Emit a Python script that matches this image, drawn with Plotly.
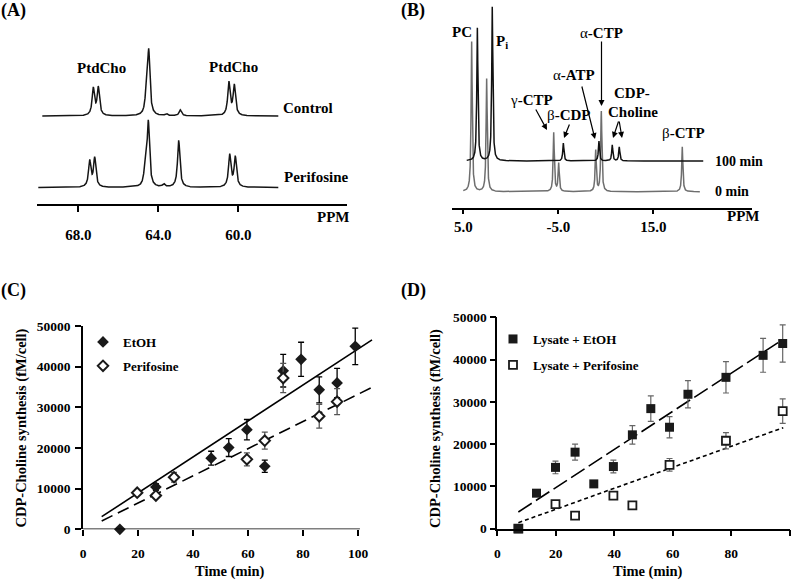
import numpy as np
import plotly.graph_objects as go

W, H = 800, 580
def px(x): return x / W
def py(y): return 1 - y / H

SERIF = "Liberation Serif, Times New Roman, serif"

# ---------------- Panel A: 31P spectra (peak lists) ----------------
a_control_ppm = [67.25, 67.0, 64.6, 64.48, 63.6, 62.9, 60.47, 60.2]
a_control_height = [27, 28, 18, 63, 2, 6, 33, 30]
a_perif_ppm = [67.43, 67.18, 64.65, 64.5, 63.73, 62.98, 60.43, 60.15]
a_perif_height = [26, 29, 20, 64, 3, 47, 32, 30]
a_ticks = [68.0, 64.0, 60.0]

# ---------------- Panel B: spectra at 0 and 100 min ----------------
b_min0_ppm = [4.12, 2.54, -4.52, -5.04, -8.94, -9.53, -18.05]
b_min0_height = [150, 113, 59, 28, 41, 80, 45]
b_min100_ppm = [3.52, 1.95, -5.53, -9.28, -10.68, -11.42]
b_min100_height = [133, 154, 18, 20, 16, 14]
b_ticks = [5.0, -5.0, -15.0]
b_ticktext = ["5.0", "-5.0", "15.0"]

# ---------------- Panel C ----------------
c_etoh_time = [13.4, 26.5, 46.6, 53.0, 59.6, 66.1, 72.8, 79.3, 85.9, 92.4, 99.0]
c_etoh_val = [0, 10400, 17500, 20100, 24500, 15500, 39000, 41800, 34300, 36000, 45000]
c_etoh_err = [0, 800, 1700, 2200, 2500, 1500, 4000, 4200, 3200, 3600, 4500]
c_perif_time = [19.7, 26.5, 33.1, 59.6, 66.1, 72.8, 85.9, 92.4]
c_perif_val = [9000, 8300, 12800, 17200, 21800, 37200, 27800, 31400]
c_perif_err = [500, 500, 1200, 1600, 2100, 3600, 2900, 3200]
c_fit_time = [6.8, 105.1]
c_fit_etoh = [3100, 46600]
c_fit_perif = [2050, 34900]

# ---------------- Panel D ----------------
d_etoh_time = [7.2, 13.4, 19.9, 26.6, 33.0, 39.7, 46.2, 52.5, 58.9, 65.2, 78.2, 90.9, 97.6]
d_etoh_val = [0, 8400, 14500, 18100, 10600, 14700, 22200, 28400, 24000, 31800, 35800, 41000, 43800]
d_etoh_err = [0, 600, 1500, 1900, 700, 1500, 2200, 3000, 2500, 3200, 3700, 4000, 4400]
d_perif_time = [7.2, 19.9, 26.6, 39.7, 46.2, 58.9, 78.2, 97.6]
d_perif_val = [0, 5800, 3100, 7800, 5500, 15100, 20800, 27800]
d_perif_err = [0, 400, 300, 300, 300, 1500, 1900, 2900]
d_fit_time = [7.2, 97.8]
d_fit_etoh = [3950, 44800]
d_fit_perif = [1420, 23900]

time_ticks = [0, 20, 40, 60, 80, 100]
val_ticks = [0, 10000, 20000, 30000, 40000, 50000]


def spectrum(grid, centers, heights, hwhm):
    y = np.zeros_like(grid)
    for c, h in zip(centers, heights):
        y += h / (1 + ((grid - c) / hwhm) ** 2)
    return y


fig = go.Figure()

# Panel A traces (baseline offsets are layout positions in axis units = px above axis)
gA1 = np.linspace(69.8, 58.0, 3000)
gA2 = np.linspace(70.0, 58.0, 3000)
fig.add_trace(go.Scatter(x=gA1, y=88 + spectrum(gA1, a_control_ppm, a_control_height, 0.07),
                         mode="lines", line=dict(color="#151515", width=1.5),
                         xaxis="x", yaxis="y", showlegend=False, hoverinfo="skip"))
fig.add_trace(go.Scatter(x=gA2, y=16.5 + spectrum(gA2, a_perif_ppm, a_perif_height, 0.07),
                         mode="lines", line=dict(color="#151515", width=1.5),
                         xaxis="x", yaxis="y", showlegend=False, hoverinfo="skip"))

# Panel B traces
gB0 = np.linspace(5.0, -19.9, 5000)
gB1 = np.linspace(4.64, -20.26, 5000)
fig.add_trace(go.Scatter(x=gB0, y=16.3 + spectrum(gB0, b_min0_ppm, b_min0_height, 0.07),
                         mode="lines", line=dict(color="#6e6e6e", width=1.5),
                         xaxis="x2", yaxis="y2", showlegend=False, hoverinfo="skip"))
fig.add_trace(go.Scatter(x=gB1, y=47 + spectrum(gB1, b_min100_ppm, b_min100_height, 0.07),
                         mode="lines", line=dict(color="#111111", width=1.5),
                         xaxis="x2", yaxis="y2", showlegend=False, hoverinfo="skip"))

# Panel C
fig.add_trace(go.Scatter(x=c_fit_time, y=c_fit_etoh, mode="lines",
                         line=dict(color="black", width=1.6), xaxis="x3", yaxis="y3",
                         showlegend=False, hoverinfo="skip"))
fig.add_trace(go.Scatter(x=c_fit_time, y=c_fit_perif, mode="lines",
                         line=dict(color="black", width=1.6, dash="12px,6px"), xaxis="x3", yaxis="y3",
                         showlegend=False, hoverinfo="skip"))
fig.add_trace(go.Scatter(x=c_etoh_time, y=c_etoh_val, mode="markers", name="EtOH",
                         marker=dict(symbol="diamond", size=9, color="#1a1a1a", line=dict(width=0)),
                         error_y=dict(type="data", array=c_etoh_err, color="black", thickness=1.3, width=3),
                         xaxis="x3", yaxis="y3", legend="legend", legendgroup="c1", cliponaxis=False))
fig.add_trace(go.Scatter(x=c_perif_time, y=c_perif_val, mode="markers", name="Perifosine",
                         marker=dict(symbol="diamond", size=8, color="white", line=dict(width=2, color="#1a1a1a")),
                         error_y=dict(type="data", array=c_perif_err, color="#555555", thickness=1.3, width=3),
                         xaxis="x3", yaxis="y3", legend="legend", legendgroup="c2", cliponaxis=False))

# Panel D
fig.add_trace(go.Scatter(x=d_fit_time, y=d_fit_etoh, mode="lines",
                         line=dict(color="black", width=1.6, dash="16px,5px"), xaxis="x4", yaxis="y4",
                         showlegend=False, hoverinfo="skip"))
fig.add_trace(go.Scatter(x=d_fit_time, y=d_fit_perif, mode="lines",
                         line=dict(color="black", width=1.6, dash="4px,3px"), xaxis="x4", yaxis="y4",
                         showlegend=False, hoverinfo="skip"))
fig.add_trace(go.Scatter(x=d_perif_time, y=d_perif_val, mode="markers", name="Lysate + Perifosine",
                         marker=dict(symbol="square", size=8, color="white", line=dict(width=1.8, color="#1a1a1a")),
                         error_y=dict(type="data", array=d_perif_err, color="#666666", thickness=1.2, width=3),
                         xaxis="x4", yaxis="y4", legend="legend2", legendgroup="d2", legendrank=2,
                         cliponaxis=False))
fig.add_trace(go.Scatter(x=d_etoh_time, y=d_etoh_val, mode="markers", name="Lysate + EtOH",
                         marker=dict(symbol="square", size=9, color="#1a1a1a", line=dict(width=0)),
                         error_y=dict(type="data", array=d_etoh_err, color="#666666", thickness=1.2, width=3),
                         xaxis="x4", yaxis="y4", legend="legend2", legendgroup="d1", legendrank=1,
                         cliponaxis=False))

axis_common = dict(showgrid=False, zeroline=False, ticks="outside", tickwidth=1.5,
                   tickcolor="black", linecolor="black", linewidth=1.5)

ann = []
def text(x, y, s, size=15, xanchor="center", weight="bold", color="black", angle=0):
    ann.append(dict(x=px(x), y=py(y), xref="paper", yref="paper", text=s, showarrow=False,
                    xanchor=xanchor, yanchor="middle", textangle=angle,
                    font=dict(family=SERIF, size=size, color=color, weight=weight)))

def arrow(x0, y0, x1, y1):
    ann.append(dict(x=px(x1), y=py(y1), xref="paper", yref="paper", ax=x0 - x1, ay=y0 - y1,
                    text="", showarrow=True,
                    arrowhead=2, arrowsize=1, arrowwidth=1.2, arrowcolor="black"))

# Panel labels
text(13, 10, "(A)", 18)
text(413, 10, "(B)", 18)
text(13, 291, "(C)", 18)
text(413, 291, "(D)", 18)

# A labels
text(101.5, 68, "PtdCho")
text(233, 67, "PtdCho")
text(281, 108, "Control", xanchor="left")
text(282, 177, "Perifosine", xanchor="left")
text(333, 217, "PPM")

# B labels
text(461.5, 32, "PC")
text(502, 42, "P<sub>i</sub>")
text(531.5, 100, "γ<b>-CTP</b>", weight="normal")
text(568, 115, "β<b>-CDP</b>", weight="normal")
text(574, 75, "α<b>-ATP</b>", weight="normal")
text(601.5, 33, "α<b>-CTP</b>", weight="normal")
text(632, 93, "CDP-")
text(633, 112, "Choline")
text(683, 133, "β<b>-CTP</b>", weight="normal")
text(713, 161, "100 min", 14, xanchor="left")
text(713, 191, "0 min", 14, xanchor="left")
text(742.5, 216, "PPM")

arrow(535, 108, 547, 130)
arrow(570, 123, 564, 138)
arrow(581.5, 85, 595, 139)
arrow(601.5, 40, 601.5, 106)
arrow(619, 120, 613, 138)
arrow(619, 120, 622, 138)

# C / D axis titles
text(20.5, 428, "CDP-Choline synthesis (fM/cell)", 14.5, angle=-90)
text(435, 428, "CDP-Choline synthesis (fM/cell)", 14.5, angle=-90)
text(230, 571, "Time (min)", 14.5)
text(648, 571, "Time (min)", 14.5)

tickfontAB = dict(family=SERIF, size=15, color="black", weight="bold")
tickfontCD = dict(family=SERIF, size=13.5, color="black", weight="bold")

fig.update_layout(
    width=W, height=H, margin=dict(l=0, r=0, t=0, b=0, autoexpand=False),
    paper_bgcolor="white", plot_bgcolor="rgba(0,0,0,0)",
    font=dict(family=SERIF, color="black"),
    xaxis=dict(domain=[px(36.7), px(346.7)], range=[70.08, 54.58], tickvals=a_ticks,
               ticktext=["%.1f" % t for t in a_ticks], showline=True, anchor="y", ticklen=6,
               tickfont=tickfontAB, ticklabelstandoff=10, **axis_common),
    yaxis=dict(domain=[py(204), 1], range=[0, 204], visible=False, anchor="x"),
    xaxis2=dict(domain=[px(451.7), px(751.7)], range=[6.22, -25.36], tickvals=b_ticks,
                ticktext=b_ticktext, showline=True, anchor="y2", ticklen=4,
                tickfont=tickfontAB, ticklabelstandoff=0, **axis_common),
    yaxis2=dict(domain=[py(208), 1], range=[0, 208], visible=False, anchor="x2"),
    xaxis3=dict(domain=[px(83), px(83 + 106 * 2.75)], range=[0, 106], tickvals=time_ticks,
                showline=False, anchor="y3", ticklen=6, tickfont=tickfontCD, ticklabelstandoff=5,
                **axis_common),
    yaxis3=dict(domain=[py(529.3), py(326)], range=[0, 50000], tickvals=val_ticks, tickformat="d",
                showline=True, anchor="x3", ticklen=6, tickfont=tickfontCD, ticklabelstandoff=2,
                **axis_common),
    xaxis4=dict(domain=[px(497.3), px(790)], range=[0, 100.1], tickvals=time_ticks,
                showline=True, anchor="y4", ticklen=6, tickfont=tickfontCD, ticklabelstandoff=5,
                **axis_common),
    yaxis4=dict(domain=[py(528.7), py(317.3)], range=[0, 50000], tickvals=val_ticks, tickformat="d",
                showline=True, anchor="x4", ticklen=6, tickfont=tickfontCD, ticklabelstandoff=0,
                **axis_common),
    legend=dict(x=px(83), y=py(327), xanchor="left", yanchor="top", bgcolor="rgba(0,0,0,0)",
                font=dict(family=SERIF, size=13, color="black", weight="bold"),
                tracegroupgap=4, itemwidth=30),
    legend2=dict(x=px(493), y=py(324), xanchor="left", yanchor="top", bgcolor="rgba(0,0,0,0)",
                 font=dict(family=SERIF, size=13, color="black", weight="bold"),
                 tracegroupgap=6, itemwidth=30),
    annotations=ann,
    shapes=[dict(type="line", xref="x3", yref="y3", x0=0, x1=100.7, y0=0, y1=0,
                 line=dict(color="black", width=1.5))],
)

# remove the default 8px page margin so the 800x580 figure fills the window
fig.write_html("out.html", config={"displayModeBar": False},
               post_script="document.body.style.margin='0px';")
